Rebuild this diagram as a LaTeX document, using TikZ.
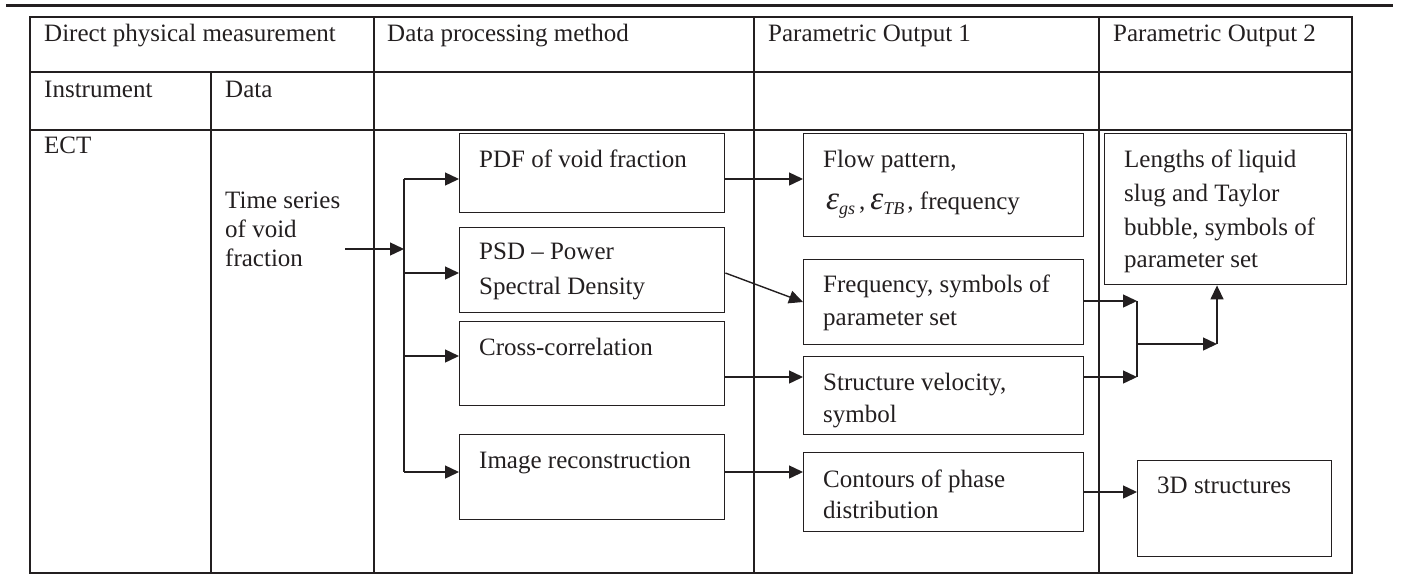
\documentclass[tikz,border=0pt]{standalone}
\usepackage{fontspec}
\setmainfont{Liberation Serif}
\usetikzlibrary{arrows.meta}
\definecolor{ink}{HTML}{231F20}
\tikzset{
  gridline/.style={draw=ink, line width=2.3pt},
  rulethick/.style={draw=ink, line width=2.8pt},
  box/.style={draw=ink, line width=1.4pt, rectangle, inner sep=0pt, anchor=north west},
  arr/.style={draw=ink, line width=1.4pt, -{Triangle[length=14pt,width=13pt]}},
  ln/.style={draw=ink, line width=1.4pt},
  txt/.style={anchor=base west, inner sep=0pt, font=\fontsize{25}{29}\selectfont, text=ink},
}
\newcommand{\epsi}[1]{{\fontsize{33}{33}\selectfont\itshape ε}\raisebox{-5pt}{\fontsize{18}{18}\selectfont\itshape #1}}
\begin{document}
\begin{tikzpicture}[x=1pt, y=-1pt]
\useasboundingbox (0,0) rectangle (1402,574);
% top rule
\draw[rulethick] (6,5.5) -- (1393,5.5);
% table grid
\draw[gridline] (30,17) rectangle (1352,573);
\draw[gridline] (30,72) -- (1352,72);
\draw[gridline] (30,130) -- (1352,130);
\draw[gridline] (211,72) -- (211,573);
\draw[gridline] (374,17) -- (374,573);
\draw[gridline] (754,17) -- (754,573);
\draw[gridline] (1099,17) -- (1099,573);
% header texts
\node[txt] (h1) at (44,41) {Direct physical measurement};
\node[txt] (h2) at (387,41) {Data processing method};
\node[txt] (h3) at (768,41) {Parametric Output 1};
\node[txt] (h4) at (1113,41) {Parametric Output 2};
\node[txt] (h5) at (44,97) {Instrument};
\node[txt] (h6) at (225,97) {Data};
\node[txt] (ect) at (44,153) {ECT};
\node[txt] (ts1) at (225,208) {Time series};
\node[txt] (ts2) at (225,237) {of void};
\node[txt] (ts3) at (225,266) {fraction};
% boxes
\node[box, minimum width=265pt, minimum height=79pt] (pdf) at (459,133) {};
\node[box, minimum width=265pt, minimum height=85pt] (psd) at (459,227) {};
\node[box, minimum width=265pt, minimum height=84pt] (cross) at (459,321) {};
\node[box, minimum width=265pt, minimum height=85pt] (img) at (459,434) {};
\node[box, minimum width=280pt, minimum height=103pt] (flow) at (803,133) {};
\node[box, minimum width=280pt, minimum height=85pt] (freq) at (803,259) {};
\node[box, minimum width=280pt, minimum height=78pt] (struct) at (803,356) {};
\node[box, minimum width=280pt, minimum height=79pt] (cont) at (803,452) {};
\node[box, minimum width=242pt, minimum height=151pt] (len) at (1104,133) {};
\node[box, minimum width=194pt, minimum height=96pt] (three) at (1137,460) {};
% box texts
\node[txt] (t1) at (479,167) {PDF of void fraction};
\node[txt] (t2) at (479,259) {PSD – Power};
\node[txt] (t3) at (479,294) {Spectral Density};
\node[txt] (t4) at (479,355) {Cross-correlation};
\node[txt] (t5) at (479,468) {Image reconstruction};
\node[txt] (t6) at (823,167) {Flow pattern,};
\node[txt] (t7) at (826,209) {\epsi{gs}\hspace{4pt},\hspace{5pt}\epsi{TB}\hspace{3pt}, frequency};
\node[txt] (t8) at (823,292) {Frequency, symbols of};
\node[txt] (t9) at (823,325) {parameter set};
\node[txt] (t10) at (823,390) {Structure velocity,};
\node[txt] (t11) at (823,422) {symbol};
\node[txt] (t12) at (823,487) {Contours of phase};
\node[txt] (t13) at (823,518) {distribution};
\node[txt] (t14) at (1124,167) {Lengths of liquid};
\node[txt] (t15) at (1124,201) {slug and Taylor};
\node[txt] (t16) at (1124,235) {bubble, symbols of};
\node[txt] (t17) at (1124,267) {parameter set};
\node[txt] (t18) at (1157,493) {3D structures};
% connector coordinates
\coordinate (tsend) at (345,249);
\coordinate (bus) at (404,249);
\coordinate (y1) at (0,179);
\coordinate (y2) at (0,273);
\coordinate (y3) at (0,356);
\coordinate (y4) at (0,472);
\coordinate (yf) at (0,302);
\coordinate (ys) at (0,377);
\coordinate (yc) at (0,492);
\coordinate (m1) at (1137,301);
\coordinate (m2) at (1137,377);
\coordinate (m3) at (1137,344);
\coordinate (m4) at (1217,344);
% connectors
\draw[arr] (tsend) -- (bus);
\draw[ln] (bus |- y1) -- (bus |- y4);
\draw[arr] (bus |- y1) -- (pdf.west |- y1);
\draw[arr] (bus |- y2) -- (psd.west |- y2);
\draw[arr] (bus |- y3) -- (cross.west |- y3);
\draw[arr] (bus |- y4) -- (img.west |- y4);
\draw[arr] (pdf.east |- y1) -- (flow.west |- y1);
\draw[arr] (psd.east |- y2) -- (freq.west |- yf);
\draw[arr] (cross.east |- ys) -- (struct.west |- ys);
\draw[arr] (img.east |- y4) -- (cont.west |- y4);
\draw[arr] (freq.east |- m1) -- (m1);
\draw[arr] (struct.east |- m2) -- (m2);
\draw[ln] (m1) -- (m2);
\draw[arr] (m3) -- (m4);
\draw[arr] (m4) -- (len.south -| m4);
\draw[arr] (cont.east |- yc) -- (three.west |- yc);
\end{tikzpicture}
\end{document}
